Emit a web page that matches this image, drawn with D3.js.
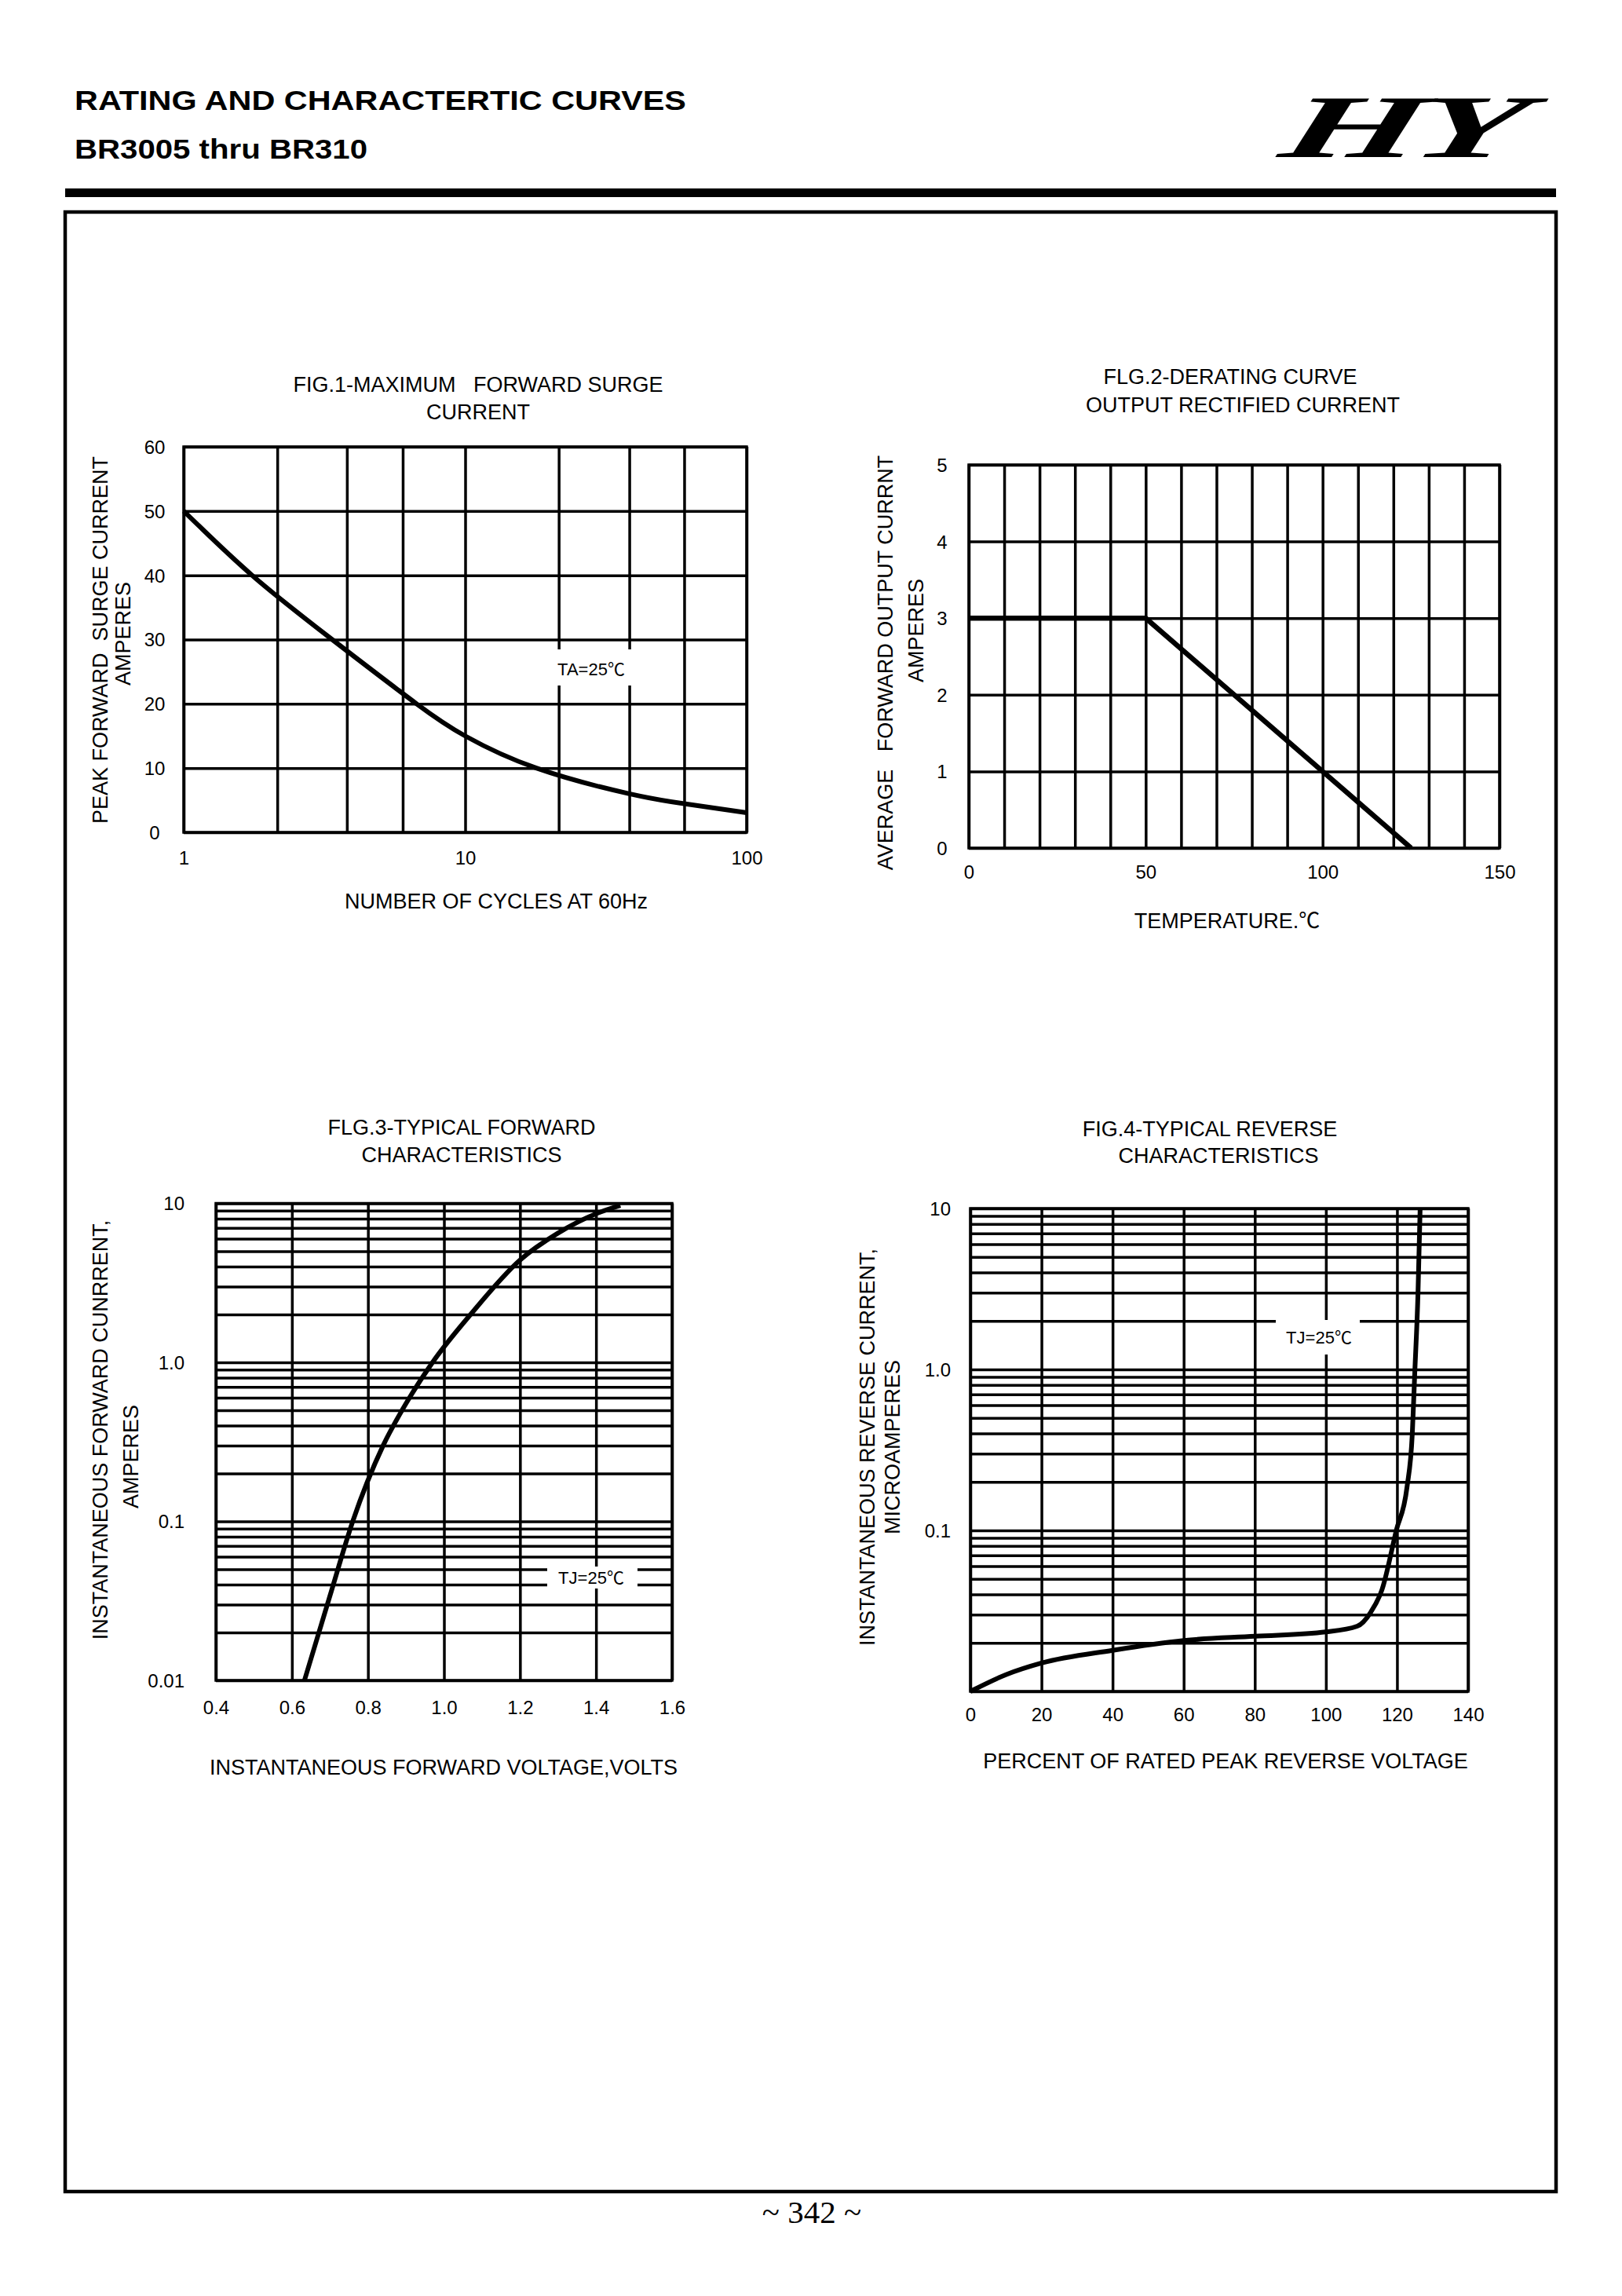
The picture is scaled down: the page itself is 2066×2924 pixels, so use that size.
<!DOCTYPE html>
<html>
<head>
<meta charset="utf-8">
<script src="https://cdn.jsdelivr.net/npm/d3@7"></script>
<style>
  html, body { margin: 0; padding: 0; background: #fff; }
  svg { display: block; }
</style>
</head>
<body>
<script>
// ---------------- DATA ----------------
// Fig.1 - Maximum forward surge current (log x)
const fig1Cycles  = [1, 1.75, 3.37, 6.72, 10, 17.9, 38.3, 60, 100];
const fig1Current = [50, 40, 30, 20, 15, 10, 6.0, 4.45, 3.05];
const fig1XGrid   = [1, 2.15, 3.8, 6, 10, 21.5, 38.3, 60, 100];
const fig1YGrid   = [0, 10, 20, 30, 40, 50, 60];
const fig1XTicks  = [1, 10, 100];
const fig1XLabels = ["1", "10", "100"];
const fig1YTicks  = [0, 10, 20, 30, 40, 50, 60];
const fig1YLabels = ["0", "10", "20", "30", "40", "50", "60"];

// Fig.2 - Derating curve
const fig2Temp    = [0, 50, 125];
const fig2Current = [3, 3, 0];
const fig2XGrid   = [0, 10, 20, 30, 40, 50, 60, 70, 80, 90, 100, 110, 120, 130, 140, 150];
const fig2YGrid   = [0, 1, 2, 3, 4, 5];
const fig2XTicks  = [0, 50, 100, 150];
const fig2XLabels = ["0", "50", "100", "150"];
const fig2YTicks  = [0, 1, 2, 3, 4, 5];
const fig2YLabels = ["0", "1", "2", "3", "4", "5"];

// Fig.3 - Typical forward characteristics (log y)
const fig3Volt    = [0.633, 0.70, 0.76, 0.84, 0.90, 0.97, 1.07, 1.20, 1.30, 1.40, 1.464];
const fig3Amp     = [0.01, 0.034, 0.10, 0.30, 0.55, 1.0, 2.0, 4.4, 6.5, 8.6, 9.7];
const fig3XGrid   = [0.4, 0.6, 0.8, 1.0, 1.2, 1.4, 1.6];
const fig3XTicks  = [0.4, 0.6, 0.8, 1.0, 1.2, 1.4, 1.6];
const fig3XLabels = ["0.4", "0.6", "0.8", "1.0", "1.2", "1.4", "1.6"];
const fig3YTicks  = [0.01, 0.1, 1, 10];
const fig3YLabels = ["0.01", "0.1", "1.0", "10"];

// Fig.4 - Typical reverse characteristics (log y)
const fig4Percent = [0, 10, 20, 40, 60, 80, 100, 108.8, 112.6, 115.8, 119.8, 122.8, 124.3, 125.0, 125.9, 126.5];
const fig4Micro   = [0.01, 0.0127, 0.015, 0.018, 0.0207, 0.022, 0.0234, 0.0254, 0.031, 0.043, 0.10, 0.185, 0.40, 0.96, 2.98, 9.9];
const fig4XGrid   = [0, 20, 40, 60, 80, 100, 120, 140];
const fig4XTicks  = [0, 20, 40, 60, 80, 100, 120, 140];
const fig4XLabels = ["0", "20", "40", "60", "80", "100", "120", "140"];
const fig4YTicks  = [0.1, 1, 10];
const fig4YLabels = ["0.1", "1.0", "10"];

// log grid (1..9 per decade)
function logGrid(lo, hi) {
  const out = [];
  for (let d = lo; d < hi * 0.999; d *= 10) for (let k = 1; k <= 9; k++) out.push(+(k * d).toPrecision(3));
  out.push(hi);
  return out;
}

// ---------------- DRAWING ----------------
const W = 2066, H = 2924;
const SANS = "'Liberation Sans', Arial, Helvetica, sans-serif";
const CJK = "'Noto Sans CJK SC', 'Noto Sans CJK JP', sans-serif";
const GRID_W = 3.5;

const svg = d3.select("body").append("svg")
  .attr("width", W).attr("height", H)
  .attr("viewBox", `0 0 ${W} ${H}`);
svg.append("rect").attr("width", W).attr("height", H).attr("fill", "#fff");

// text helper: renders ℃ with a CJK font
function setText(sel, str) {
  const i = str.indexOf("\u2103");
  if (i < 0) { sel.text(str); return; }
  sel.append("tspan").text(str.slice(0, i));
  sel.append("tspan").attr("font-family", CJK).text("\u2103");
  if (i + 1 < str.length) sel.append("tspan").text(str.slice(i + 1));
}

// header
svg.append("text").attr("x", 95).attr("y", 140)
  .attr("font-family", SANS).attr("font-weight", "bold").attr("font-size", 35)
  .attr("textLength", 779).attr("lengthAdjust", "spacingAndGlyphs")
  .text("RATING AND CHARACTERTIC CURVES");
svg.append("text").attr("x", 95).attr("y", 202)
  .attr("font-family", SANS).attr("font-weight", "bold").attr("font-size", 35)
  .attr("textLength", 373).attr("lengthAdjust", "spacingAndGlyphs")
  .text("BR3005 thru BR310");

// logo
svg.append("text")
  .attr("transform", "translate(1626,200) scale(2.02,1) skewX(-8)")
  .attr("font-family", "'Liberation Serif', 'Times New Roman', serif")
  .attr("font-weight", "bold").attr("font-style", "italic")
  .attr("font-size", 114)
  .attr("letter-spacing", -6)
  .text("HY");

// bar and frame
svg.append("rect").attr("x", 83).attr("y", 240).attr("width", 1899).attr("height", 11).attr("fill", "#000");
svg.append("rect").attr("x", 83).attr("y", 270).attr("width", 1899).attr("height", 2521)
  .attr("fill", "none").attr("stroke", "#000").attr("stroke-width", 4.5);

// footer
svg.append("text").attr("x", 1034).attr("y", 2831).attr("text-anchor", "middle")
  .attr("font-family", "'Liberation Serif', 'Times New Roman', serif").attr("font-size", 41)
  .text("~ 342 ~");

function drawChart(c) {
  const g = svg.append("g");
  const x = c.x, y = c.y;
  const [L, R] = x.range();
  const [B, T] = y.range();

  // vertical grid
  g.append("g").attr("transform", `translate(0,${B})`)
    .call(d3.axisBottom(x).tickValues(c.xGrid).tickSize(-(B - T)).tickFormat(""))
    .call(s => s.select(".domain").remove())
    .selectAll("line").attr("stroke", "#000").attr("stroke-width", GRID_W);
  // horizontal grid
  g.append("g").attr("transform", `translate(${L},0)`)
    .call(d3.axisLeft(y).tickValues(c.yGrid).tickSize(-(R - L)).tickFormat(""))
    .call(s => s.select(".domain").remove())
    .selectAll("line").attr("stroke", "#000").attr("stroke-width", GRID_W);
  // frame
  g.append("rect").attr("x", L).attr("y", T).attr("width", R - L).attr("height", B - T)
    .attr("fill", "none").attr("stroke", "#000").attr("stroke-width", GRID_W);

  // x tick labels
  const xa = g.append("g").attr("transform", `translate(0,${B})`)
    .call(d3.axisBottom(x).tickValues(c.xTicks).tickSize(0).tickFormat((d, i) => c.xLabels[i]));
  xa.select(".domain").remove();
  xa.attr("font-family", SANS).attr("font-size", 24);
  xa.selectAll("text").attr("y", c.xLabelOff).attr("dy", "0.35em").attr("fill", "#000");

  // y tick labels
  const ya = g.append("g").attr("transform", `translate(${L},0)`)
    .call(d3.axisLeft(y).tickValues(c.yTicks).tickSize(0).tickFormat((d, i) => c.yLabels[i]));
  ya.select(".domain").remove();
  ya.attr("font-family", SANS).attr("font-size", 24).attr("text-anchor", c.yAnchor);
  ya.selectAll("text").attr("x", c.yLabelOff).attr("dy", "0.35em").attr("fill", "#000");

  // in-plot annotation
  if (c.note) {
    const n = c.note;
    g.append("rect").attr("x", n.box[0]).attr("y", n.box[1]).attr("width", n.box[2]).attr("height", n.box[3]).attr("fill", "#fff");
    const t = g.append("text").attr("x", n.x).attr("y", n.y).attr("dy", "0.35em").attr("text-anchor", "middle")
      .attr("font-family", SANS).attr("font-size", 22);
    setText(t, n.text);
  }

  // curve
  const line = d3.line().x(d => x(d[0])).y(d => y(d[1])).curve(c.curve);
  g.append("path").datum(d3.zip(c.xs, c.ys)).attr("d", line)
    .attr("fill", "none").attr("stroke", "#000").attr("stroke-width", c.curveW)
    .attr("stroke-linejoin", "round");

  // titles
  c.title.forEach(t => g.append("text").attr("x", t[0]).attr("y", t[1]).attr("text-anchor", "middle")
    .attr("font-family", SANS).attr("font-size", 27).attr("xml:space", "preserve").text(t[2]));
  const xt = g.append("text").attr("x", c.xTitle[0]).attr("y", c.xTitle[1]).attr("text-anchor", "middle")
    .attr("font-family", SANS).attr("font-size", 27);
  setText(xt, c.xTitle[2]);
  c.yTitle.forEach(t => g.append("text")
    .attr("transform", `translate(${t[0]},${t[1]}) rotate(-90)`).attr("text-anchor", "middle")
    .attr("font-family", SANS).attr("font-size", 27).attr("xml:space", "preserve").text(t[2]));
}

// Fig 1
drawChart({
  x: d3.scaleLog().domain([1, 100]).range([234, 951]),
  y: d3.scaleLinear().domain([0, 60]).range([1060, 569]),
  xGrid: fig1XGrid, yGrid: fig1YGrid,
  xTicks: fig1XTicks, xLabels: fig1XLabels, xLabelOff: 33,
  yTicks: fig1YTicks, yLabels: fig1YLabels, yLabelOff: -37, yAnchor: "middle",
  xs: fig1Cycles, ys: fig1Current, curve: d3.curveNatural, curveW: 6,
  note: { box: [700, 827, 108, 46], x: 753, y: 852, text: "TA=25\u2103" },
  title: [[609, 499, "FIG.1-MAXIMUM   FORWARD SURGE"], [609, 534, "CURRENT"]],
  xTitle: [632, 1157, "NUMBER OF CYCLES AT 60Hz"],
  yTitle: [[137, 815, "PEAK FORWARD  SURGE CURRENT"], [166, 807, "AMPERES"]]
});

// Fig 2
drawChart({
  x: d3.scaleLinear().domain([0, 150]).range([1234, 1910]),
  y: d3.scaleLinear().domain([0, 5]).range([1080, 592]),
  xGrid: fig2XGrid, yGrid: fig2YGrid,
  xTicks: fig2XTicks, xLabels: fig2XLabels, xLabelOff: 31,
  yTicks: fig2YTicks, yLabels: fig2YLabels, yLabelOff: -34, yAnchor: "middle",
  xs: fig2Temp, ys: fig2Current, curve: d3.curveLinear, curveW: 6.5,
  title: [[1567, 489, "FLG.2-DERATING CURVE"], [1583, 525, "OUTPUT RECTIFIED CURRENT"]],
  xTitle: [1563, 1182, "TEMPERATURE.\u2103"],
  yTitle: [[1137, 844, "AVERAGE   FORWARD OUTPUT CURRNT"], [1176, 803, "AMPERES"]]
});

// Fig 3
drawChart({
  x: d3.scaleLinear().domain([0.4, 1.6]).range([275, 856]),
  y: d3.scaleLog().domain([0.01, 10]).range([2140, 1532.5]),
  xGrid: fig3XGrid, yGrid: logGrid(0.01, 10),
  xTicks: fig3XTicks, xLabels: fig3XLabels, xLabelOff: 35,
  yTicks: fig3YTicks, yLabels: fig3YLabels, yLabelOff: -40, yAnchor: "end",
  xs: fig3Volt, ys: fig3Amp, curve: d3.curveMonotoneX, curveW: 6,
  note: { box: [697, 1995, 115, 28], x: 753, y: 2009, text: "TJ=25\u2103" },
  title: [[588, 1445, "FLG.3-TYPICAL FORWARD"], [588, 1480, "CHARACTERISTICS"]],
  xTitle: [565, 2260, "INSTANTANEOUS FORWARD VOLTAGE,VOLTS"],
  yTitle: [[137, 1821, "INSTANTANEOUS FORWARD CUNRRENT,"], [176, 1855, "AMPERES"]]
});

// Fig 4
drawChart({
  x: d3.scaleLinear().domain([0, 140]).range([1236, 1870]),
  y: d3.scaleLog().domain([0.01, 10]).range([2154, 1539]),
  xGrid: fig4XGrid, yGrid: logGrid(0.01, 10),
  xTicks: fig4XTicks, xLabels: fig4XLabels, xLabelOff: 30,
  yTicks: fig4YTicks, yLabels: fig4YLabels, yLabelOff: -25, yAnchor: "end",
  xs: fig4Percent, ys: fig4Micro, curve: d3.curveMonotoneX, curveW: 6,
  note: { box: [1625, 1681, 107, 44], x: 1680, y: 1703, text: "TJ=25\u2103" },
  title: [[1541, 1447, "FIG.4-TYPICAL REVERSE"], [1552, 1481, "CHARACTERISTICS"]],
  xTitle: [1561, 2252, "PERCENT OF RATED PEAK REVERSE VOLTAGE"],
  yTitle: [[1114, 1843, "INSTANTANEOUS REVERSE CURRENT,"], [1146, 1843, "MICROAMPERES"]]
});
</script>
</body>
</html>
